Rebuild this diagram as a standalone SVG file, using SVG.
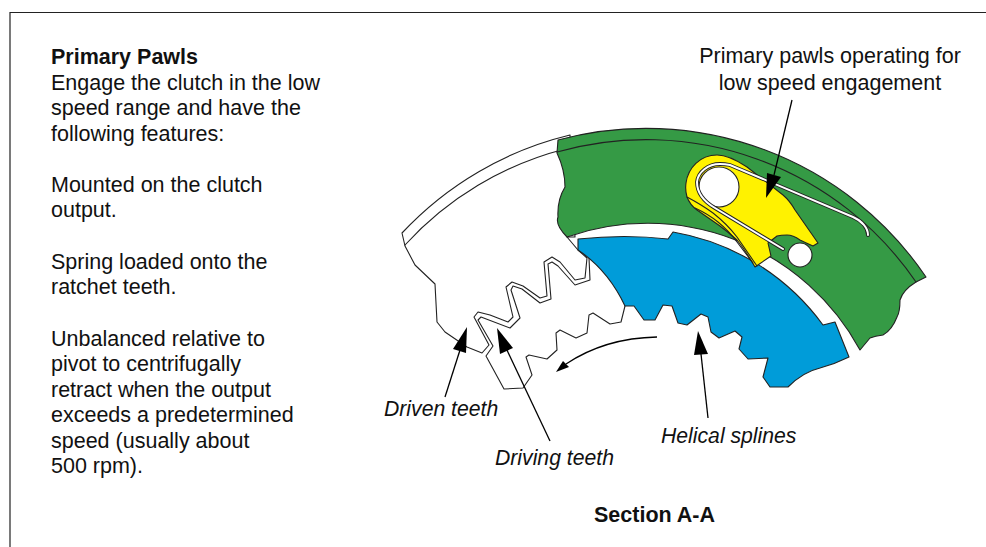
<svg xmlns="http://www.w3.org/2000/svg" width="986" height="547" viewBox="0 0 986 547">
<style>
text{font-family:"Liberation Sans",Arial,sans-serif;font-size:21.500px;fill:#111}
.b{font-weight:bold}.i{font-style:italic;font-size:21.200px}.m{text-anchor:middle}
.o{stroke:#222;stroke-width:1.1;stroke-linejoin:round;stroke-linecap:round}
.n{fill:none}
.l{fill:none;stroke:#000;stroke-width:1.3}
</style>
<rect width="986" height="547" fill="#fff"/>
<path d="M10 547V12.500H986" fill="none" stroke="#222" stroke-width="1.2"/>
<g id="text-block">
<text class="b" x="51" y="64">Primary Pawls</text>
<text x="51" y="90">Engage the clutch in the low</text>
<text x="51" y="115">speed range and have the</text>
<text x="51" y="141">following features:</text>
<text x="51" y="192">Mounted on the clutch</text>
<text x="51" y="217">output.</text>
<text x="51" y="269">Spring loaded onto the</text>
<text x="51" y="294">ratchet teeth.</text>
<text x="51" y="346">Unbalanced relative to</text>
<text x="51" y="371">pivot to centrifugally</text>
<text x="51" y="397">retract when the output</text>
<text x="51" y="422">exceeds a predetermined</text>
<text x="51" y="448">speed (usually about</text>
<text x="51" y="473">500 rpm).</text>
</g>
<g id="driven-ring">
<path class="o" fill="#fff" d="M402 233A338 338 0 0 1 570 135L575 237L567 237L578 250L587 258L585 278L575 280L560 262L552 257L544 262L547 296L540 298L523 286L512 282L506 287L513 317L508 322L490 315L478 312L474 317L489 345L482 353L467 347L445 332L437 322L435 284L415 265L405 246Z"/>
<path class="o n" d="M405 245A327 327 0 0 1 565 149"/>
</g>
<g id="driving-ring">
<path class="o n" d="M589 258L590 280L575 285L558 266L552 262L548 264L551 299L540 303L522 289L513 286L511 290L520 318L510 328L481 317L478 320L493 346L486 356L504 389L523 388L532 375L526 357L529 355L547 359L557 350L556 333L560 330L576 338L587 333L589 315L593 313L610 324L621 322L625 306"/>
</g>
<g id="output-green">
<path class="o" fill="#359a45" d="M558 140A338 338 0 0 1 926 277L916 282Q903 290 900 300Q900 312 897 317Q892 330 883 335Q875 336 870 338L860 350A242 242 0 0 0 567 237Q555 225 558 217Q557 200 565 187Q565 170 557 153Z"/>
<path class="o n" d="M557 152A327 327 0 0 1 916 282"/>
</g>
<g id="hub-blue">
<path class="o" fill="#009cd9" d="M578 239Q625 234 668 239L673 232A235 235 0 0 1 823 325L835 322L849 357Q835 364 820 368Q803 372 788 387L770 387L763 377L768 358L748 359L739 349L742 337L735 331L719 338L711 332L708 317L701 314L687 325L678 323L672 306L663 305L655 320L644 320L634 306L625 306Q608 270 578 250Z"/>
</g>
<g id="pawl">
<path class="o" fill="#fff200" d="M686 183C688 168 700 155 717 155C728 155 738 161 747 167L783 195Q790 201 795 210L818 243L813 246Q806 243 800 240Q793 235 787 235Q781 235 777 236L768 243L771 256L755 267L752 262Q745 250 737 240Q728 232 720 226L697 210Q690 205 687 197Q685 190 686 183Z"/>
<path class="o n" d="M687 197Q702 205 713 213Q727 224 737 237L757 266M695 208Q708 214 718 222Q729 231 737 242L753 263"/>
<circle class="o" cx="719" cy="187" r="20" fill="#fff"/>
<circle class="o" cx="800" cy="255" r="12" fill="#fff"/>
<path fill="none" stroke="#222" stroke-width="3.800" stroke-linecap="round" d="M783 249L715 208C703 201 697 192 697 182C698 172 708 164 720 164Q725 164 730 165L853 217C862 221 868 228 868 235"/>
<path fill="none" stroke="#fff" stroke-width="2" stroke-linecap="round" d="M783 249L715 208C703 201 697 192 697 182C698 172 708 164 720 164Q725 164 730 165L853 217C862 221 868 228 868 235"/>
</g>
<g id="connectors">
<path class="l" d="M445 397L460 350"/><path d="M467 327L466 353L453 349Z"/>
<path class="l" d="M550 441L506 348"/><path d="M497 328L513 348L500 354Z"/>
<path class="l" d="M708 418L701 354"/><path d="M698 331L708 354L694 355Z"/>
<path class="l" d="M792 100L774 175"/><path d="M766 198L767 173L781 177Z"/>
<path class="l" d="M657 337Q605 338 566 364"/><path d="M556 372L563 361L569 367Z"/>
</g>
<g id="labels">
<text class="m" x="830" y="63">Primary pawls operating for</text>
<text class="m" x="830" y="90">low speed engagement</text>
<text class="i" x="384" y="416">Driven teeth</text>
<text class="i" x="495" y="465">Driving teeth</text>
<text class="i" x="661" y="443">Helical splines</text>
<text class="b" x="594" y="522">Section A-A</text>
</g>
</svg>
